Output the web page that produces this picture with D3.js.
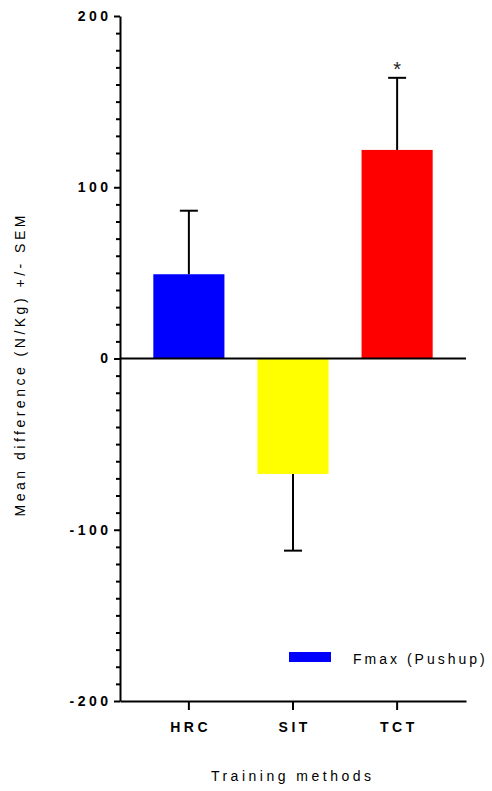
<!DOCTYPE html>
<html>
<head>
<meta charset="utf-8">
<script src="https://cdn.jsdelivr.net/npm/d3@7"></script>
<style>
  html, body { margin: 0; padding: 0; background: #fff; }
  svg { display: block; font-family: "Liberation Sans", Arial, sans-serif; }
</style>
</head>
<body>
<svg id="chart" width="492" height="791"></svg>
<script>
// Training groups and their mean change with SEM
const categories = ["HRC", "SIT", "TCT"];
const means = [49.2, -67.4, 121.8];
const sems = [37.1, 44.8, 42.1];
const barColors = ["#0000ff", "#ffff00", "#ff0000"];
const significant = [false, false, true];
const yTicks = [-200, -100, 0, 100, 200];
const seriesName = "Fmax (Pushup)";

const svg = d3.select("#chart");
const plotLeft = 120, plotRight = 466, plotTop = 16, plotBottom = 701;

const y = d3.scaleLinear().domain([-200, 200]).range([plotBottom, plotTop]);
const x = d3.scaleBand().domain(categories).range([plotLeft, plotRight])
  .paddingInner(0.317).paddingOuter(0.32);

const LS = 3.5; // letter spacing used throughout

// bars
svg.append("g").selectAll("rect").data(categories).join("rect")
  .attr("x", d => x(d))
  .attr("width", x.bandwidth())
  .attr("y", (d, i) => y(Math.max(0, means[i])))
  .attr("height", (d, i) => Math.abs(y(means[i]) - y(0)))
  .attr("fill", (d, i) => barColors[i]);

// one-sided error bars (away from zero)
const eb = svg.append("g").attr("stroke", "#000").attr("stroke-width", 2);
categories.forEach((c, i) => {
  const cx = x(c) + x.bandwidth() / 2;
  const tip = means[i] + Math.sign(means[i]) * sems[i];
  eb.append("line").attr("x1", cx).attr("x2", cx)
    .attr("y1", y(means[i])).attr("y2", y(tip));
  eb.append("line").attr("x1", cx - 9).attr("x2", cx + 9)
    .attr("y1", y(tip)).attr("y2", y(tip));
  if (significant[i]) {
    svg.append("text").attr("x", cx).attr("y", y(tip) - 2)
      .attr("text-anchor", "middle").attr("font-size", 20)
      .attr("fill", "#222").text("*");
  }
});

// zero line
svg.append("line").attr("x1", plotLeft).attr("x2", plotRight)
  .attr("y1", y(0)).attr("y2", y(0))
  .attr("stroke", "#000").attr("stroke-width", 2);

// y axis: minor ticks
const minor = d3.range(-200, 201, 10).filter(v => v % 100 !== 0);
svg.append("g").attr("transform", `translate(${plotLeft},0)`)
  .call(d3.axisLeft(y).tickValues(minor).tickSize(4).tickFormat(""))
  .call(g => g.select(".domain").remove())
  .call(g => g.selectAll("line").attr("stroke-width", 2));

// y axis: major ticks and labels (plain hyphen for negatives)
svg.append("g").attr("transform", `translate(${plotLeft},0)`)
  .call(d3.axisLeft(y).tickValues(yTicks).tickFormat(d => String(d))
    .tickSize(6).tickSizeOuter(0).tickPadding(6))
  .call(g => g.select(".domain").attr("stroke-width", 2))
  .call(g => g.selectAll(".tick line").attr("stroke-width", 2))
  .call(g => g.selectAll("text")
    .attr("font-family", "Liberation Sans, Arial, sans-serif")
    .attr("font-size", 14).attr("font-weight", "bold")
    .attr("fill", "#000").attr("dx", LS)
    .style("letter-spacing", LS + "px"));

// x axis
svg.append("g").attr("transform", `translate(0,${plotBottom})`)
  .call(d3.axisBottom(x).tickSize(9).tickSizeOuter(0).tickPadding(12))
  .call(g => g.select(".domain").attr("stroke-width", 2))
  .call(g => g.selectAll(".tick line").attr("stroke-width", 2))
  .call(g => g.selectAll("text")
    .attr("font-family", "Liberation Sans, Arial, sans-serif")
    .attr("font-size", 14).attr("font-weight", "bold")
    .attr("fill", "#000").attr("dx", LS / 2)
    .style("letter-spacing", LS + "px"));

// axis titles
svg.append("text")
  .attr("transform", `translate(25,${(207 + 525) / 2}) rotate(-90)`)
  .attr("text-anchor", "middle").attr("font-size", 14)
  .attr("dx", LS / 2)
  .style("letter-spacing", LS + "px")
  .text("Mean difference (N/Kg) +/- SEM");

svg.append("text")
  .attr("x", (plotLeft + plotRight) / 2 - 2).attr("y", 781)
  .attr("text-anchor", "middle").attr("font-size", 14)
  .attr("dx", LS / 2)
  .style("letter-spacing", LS + "px")
  .text("Training methods");

// legend
const legend = svg.append("g");
legend.append("rect").attr("x", 289).attr("y", 652).attr("width", 42).attr("height", 10)
  .attr("fill", barColors[0]);
legend.append("text").attr("x", 353).attr("y", 663.5)
  .attr("font-size", 14).style("letter-spacing", "3px")
  .text(seriesName);
</script>
</body>
</html>
